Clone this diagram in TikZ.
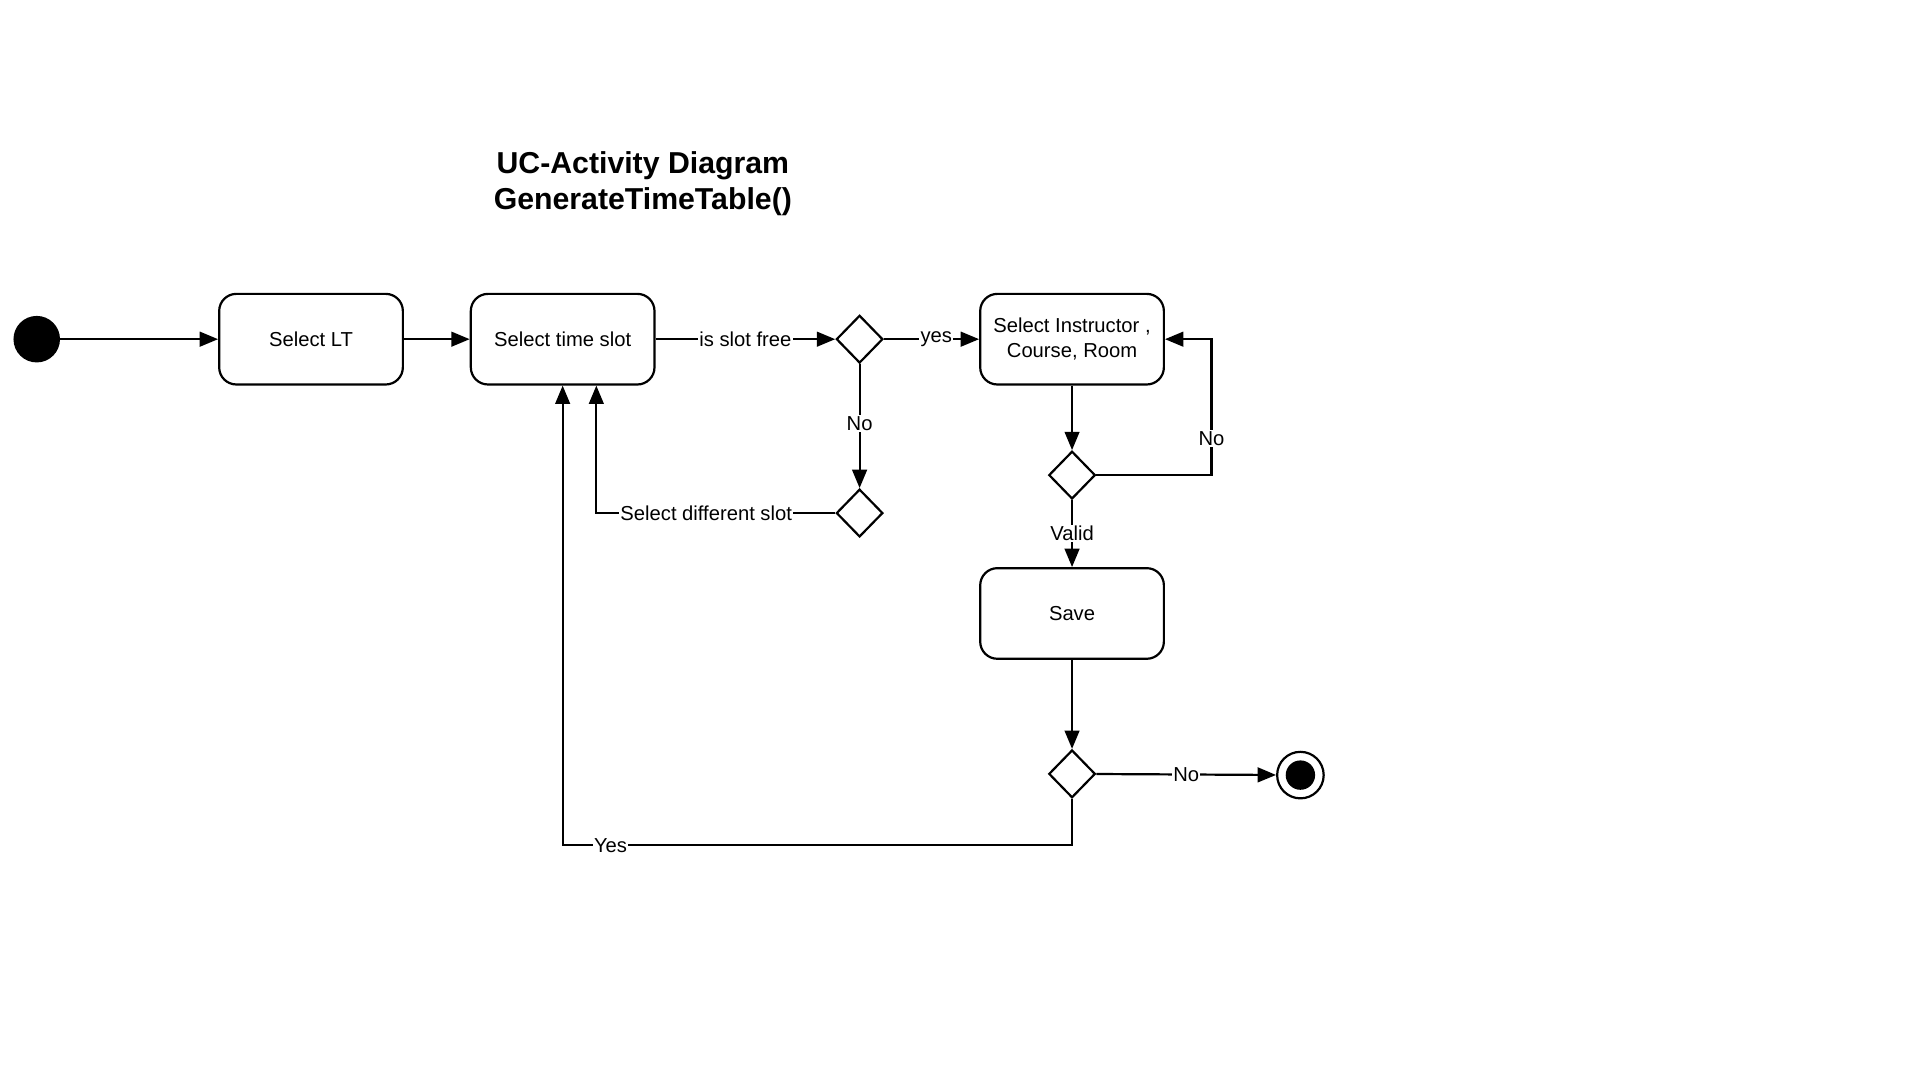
\documentclass[tikz,border=0pt]{standalone}
\usepackage{fontspec}
\setmainfont{Liberation Sans}
\usetikzlibrary{positioning, arrows.meta, shapes.geometric}

\begin{document}
\begin{tikzpicture}[
            x=1pt, y=-1pt,
            activity/.style = {rectangle, rounded corners=14pt, draw, line width=1.8pt, minimum width=150pt, minimum height=74pt, align=center, font=\fontsize{16.5}{20}\selectfont},
            decision/.style = {diamond, draw, line width=1.8pt, minimum width=38pt, minimum height=39pt, inner sep=0pt},
            startdot/.style = {circle, fill=black, minimum size=38pt, inner sep=0pt},
            enddot/.style = {circle, draw, line width=1.8pt, minimum size=38pt, inner sep=0pt},
            lbl/.style = {fill=white, inner sep=1pt, font=\fontsize{16.5}{20}\selectfont},
            flow/.style = {draw, line width=1.8pt, -{Triangle[length=15pt, width=12pt]}},
        ]
            \useasboundingbox (0,0) rectangle (1568,882);

            % Title
            \node[align=center, font=\fontsize{24.7}{30}\selectfont\bfseries] (title) at (525,150) {UC-Activity Diagram\\GenerateTimeTable()};

            % Activities and decisions
            \node[startdot] (start) at (30,277) {};
            \node[activity] (lt) at (254,277) {Select LT};
            \node[activity] (slot) at (459.5,277) {Select time slot};
            \node[decision] (free) at (702,277) {};
            \node[decision] (diff) at (702,419) {};
            \node[activity] (icr) at (875.5,277) {Select Instructor ,\\Course, Room};
            \node[decision] (valid) at (875.5,388) {};
            \node[activity] (save) at (875.5,501) {Save};
            \node[decision] (more) at (875.5,632) {};
            \node[enddot] (end) at (1062,633) {};
            \fill (end.center) circle (12pt);

            % Main flow
            \draw[flow] (start) -- (lt);
            \draw[flow] (lt) -- (slot);
            \draw[flow] (slot) -- node[lbl] {is slot free} (free);
            \draw[flow] (free) -- node[lbl, pos=0.55] {yes} (icr);
            \draw[flow] (free) -- node[lbl, pos=0.48] {No} (diff);
            \draw[flow] (icr) -- (valid);
            \draw[flow] (valid) -- node[lbl] {Valid} (save);
            \draw[flow] (save) -- (more);
            \draw[flow] (more) -- node[lbl] {No} (end);

            % Loops back
            \draw[flow] (diff.west) -| node[lbl, pos=0.27] {Select different slot} ([xshift=27.5pt]slot.south);
            \draw[flow] (valid.east) -- ++(94,0) |- node[lbl, pos=0.135] {No} (icr.east);
            \draw[flow] (more.south) -- ++(0,38) -| node[lbl, pos=0.453] {Yes} (slot.south);
        \end{tikzpicture}
\end{document}
